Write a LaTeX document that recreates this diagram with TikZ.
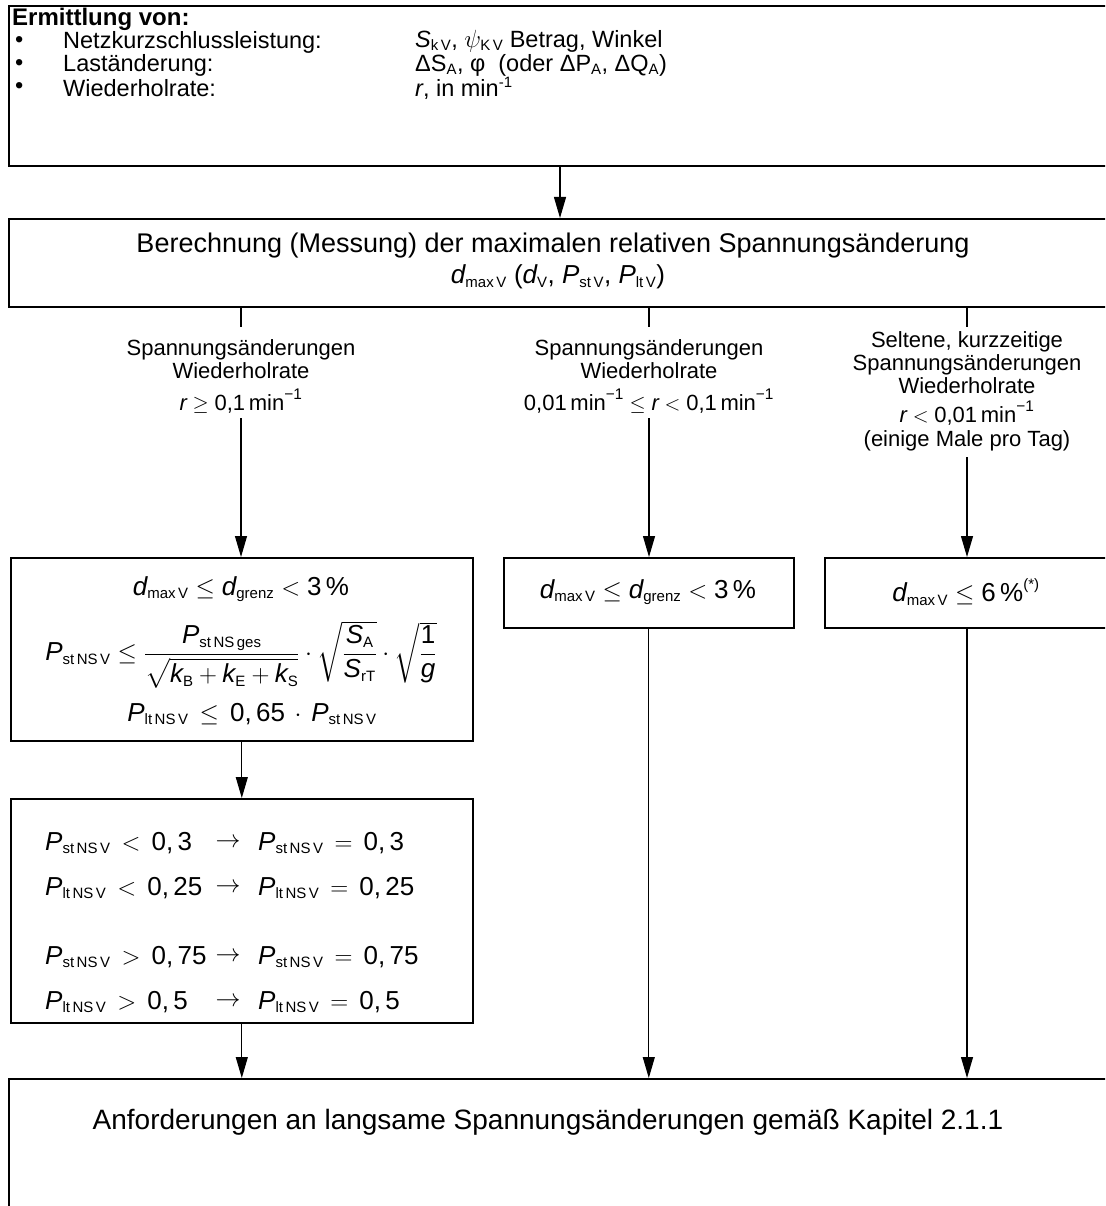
\documentclass[tikz,border=0pt]{standalone}
\usepackage{fontspec}
\usepackage{amsmath}
\setmainfont{Liberation Sans}
\usetikzlibrary{arrows.meta}
\DeclareMathSizes{26}{26}{15}{11}
\DeclareMathSizes{23.5}{23.5}{15}{11}
\DeclareMathSizes{25}{25}{15}{11}
\newcommand\vi[1]{\text{\itshape #1}}
\newcommand\tx[1]{\text{#1}}
\newcommand\rl[1]{\mathrel{\,#1\,}}
\begin{document}
\begin{tikzpicture}[x=1pt,y=-1pt,
  box/.style={draw, line width=1.6pt, inner sep=0pt, anchor=north west},
  txt/.style={inner sep=0pt, font=\fontsize{23.5}{24}\selectfont},
  big/.style={inner sep=0pt, font=\fontsize{27}{27}\selectfont},
  lbl/.style={inner sep=0pt, align=center, font=\fontsize{22}{23}\selectfont},
  fm/.style={inner sep=0pt, font=\fontsize{26}{26}\selectfont},
  arr/.style={line width=1.1pt, -{Triangle[length=21pt, width=12pt]}},
  tickline/.style={line width=1.1pt},
]
\useasboundingbox (0,0) rectangle (1105,1206);
\clip (0,0) rectangle (1105,1206);

% boxes
\node[box, minimum width=1104pt, minimum height=160pt] (top) at (8,5) {};
\node[box, minimum width=1104pt, minimum height=88pt] (mid) at (8,218) {};
\node[box, minimum width=462pt, minimum height=183pt] (b1) at (10,557) {};
\node[box, minimum width=290pt, minimum height=70pt] (b2) at (503,557) {};
\node[box, minimum width=290pt, minimum height=70pt] (b3) at (824,557) {};
\node[box, minimum width=462pt, minimum height=224pt] (b4) at (10,798) {};
\node[box, minimum width=1104pt, minimum height=200pt] (bot) at (8,1078) {};

% top box text
\node[txt, anchor=west, font=\bfseries\fontsize{24}{24}\selectfont] (head) at (12,19) {Ermittlung von:};
\node[txt, anchor=west] (d1) at (15,42) {•};
\node[txt, anchor=west] (d2) at (15,65) {•};
\node[txt, anchor=west] (d3) at (15,88) {•};
\node[txt, anchor=west] (l1) at (63,42) {Netzkurzschlussleistung:};
\node[txt, anchor=west] (l2) at (63,65) {Laständerung:};
\node[txt, anchor=west] (l3) at (63,88) {Wiederholrate:};
\node[txt, anchor=west] (v1) at (415,41) {$\vi{S}_{\tx{k\,V}}$, $\psi_{\tx{K\,V}}$ Betrag, Winkel};
\node[txt, anchor=west] (v2) at (415,65) {ΔS\textsubscript{A}, φ\ \ (oder ΔP\textsubscript{A}, ΔQ\textsubscript{A})};
\node[txt, anchor=west] (v3) at (415,88) {\textit{r}, in min\textsuperscript{-1}};

% middle box text
\node[big] (m1) at (553,246) {Berechnung (Messung) der maximalen relativen Spannungsänderung};
\node[txt, font=\fontsize{26}{26}\selectfont] (m2) at (558,277) {$\vi{d}_{\tx{max\,V}}$ ($\vi{d}_{\tx{V}}$, $\vi{P}_{\tx{st\,V}}$, $\vi{P}_{\tx{lt\,V}}$)};

% top arrow
\coordinate (ax) at (560,0);
\draw[arr] (ax |- top.south) -- (ax |- mid.north);

% column labels
\node[lbl] (c1) at (241,359) {Spannungsänderungen\\Wiederholrate};
\node[lbl] (c1r) at (241,401) {$\vi{r} \ge \tx{0,1\,min}^{\tx{−1}}$};
\node[lbl] (c2) at (649,359) {Spannungsänderungen\\Wiederholrate};
\node[lbl] (c2r) at (649,401) {$\tx{0,01\,min}^{\tx{−1}} \le \vi{r} < \tx{0,1\,min}^{\tx{−1}}$};
\node[lbl] (c3) at (967,363) {Seltene, kurzzeitige\\Spannungsänderungen\\Wiederholrate};
\node[lbl] (c3r) at (967,413) {$\vi{r} < \tx{0,01\,min}^{\tx{−1}}$};
\node[lbl] (c3n) at (967,441) {(einige Male pro Tag)};

% ticks from middle box
\draw[tickline] (c1.north |- mid.south) -- ++(0,19);
\draw[tickline] (c2.north |- mid.south) -- ++(0,19);
\draw[tickline] (c3.north |- mid.south) -- ++(0,19);

% arrows to boxes
\draw[arr] ([yshift=-5pt]c1r.south) -- (c1r.south |- b1.north);
\draw[arr] ([yshift=-5pt]c2r.south) -- (c2r.south |- b2.north);
\draw[arr] ([yshift=-6pt]c3n.south) -- (c3n.south |- b3.north);

% box 1 formulas
\node[fm] (f1) at (241,589) {$\vi{d}_{\tx{max\,V}} \le \vi{d}_{\tx{grenz}} < \tx{3\,\%}$};
\node[fm] (f2) at (241,655) {$\vi{P}_{\tx{st\,NS\,V}} \le \dfrac{\vi{P}_{\tx{st\,NS\,ges}}}{\sqrt{\vi{k}_{\tx{B}}+\vi{k}_{\tx{E}}+\vi{k}_{\tx{S}}}} \cdot \sqrt{\dfrac{\vi{S}_{\tx{A}}}{\vi{S}_{\tx{rT}}}} \cdot \sqrt{\dfrac{\tx{1}}{\vi{g}}}$};
\node[fm] (f3) at (252,714) {$\vi{P}_{\tx{lt\,NS\,V}} \rl{\le} \tx{0,\,65} \mathbin{\,\cdot\,} \vi{P}_{\tx{st\,NS\,V}}$};

% box 2 / 3 formulas
\node[fm] (f4) at (648,592) {$\vi{d}_{\tx{max\,V}} \le \vi{d}_{\tx{grenz}} < \tx{3\,\%}$};
\node[fm] (f5) at (966,592) {$\vi{d}_{\tx{max\,V}} \le \tx{6\,\%}^{\tx{(*)}}$};

% box 4 rows
\node[fm, anchor=west] (r1a) at (45,843) {$\vi{P}_{\tx{st\,NS\,V}} \rl{<} \tx{0,\,3}$};
\node[fm, anchor=west] (r2a) at (45,888) {$\vi{P}_{\tx{lt\,NS\,V}} \rl{<} \tx{0,\,25}$};
\node[fm, anchor=west] (r3a) at (45,957) {$\vi{P}_{\tx{st\,NS\,V}} \rl{>} \tx{0,\,75}$};
\node[fm, anchor=west] (r4a) at (45,1002) {$\vi{P}_{\tx{lt\,NS\,V}} \rl{>} \tx{0,\,5}$};
\node[fm] (r1b) at (228,843) {$\rightarrow$};
\node[fm] (r2b) at (228,888) {$\rightarrow$};
\node[fm] (r3b) at (228,957) {$\rightarrow$};
\node[fm] (r4b) at (228,1002) {$\rightarrow$};
\node[fm, anchor=west] (r1c) at (258,843) {$\vi{P}_{\tx{st\,NS\,V}} \rl{=} \tx{0,\,3}$};
\node[fm, anchor=west] (r2c) at (258,888) {$\vi{P}_{\tx{lt\,NS\,V}} \rl{=} \tx{0,\,25}$};
\node[fm, anchor=west] (r3c) at (258,957) {$\vi{P}_{\tx{st\,NS\,V}} \rl{=} \tx{0,\,75}$};
\node[fm, anchor=west] (r4c) at (258,1002) {$\vi{P}_{\tx{lt\,NS\,V}} \rl{=} \tx{0,\,5}$};

% arrows between boxes
\draw[arr] (b1.south) -- (b4.north);
\draw[arr] (b4.south) -- (b4.south |- bot.north);
\draw[arr] (b2.south) -- (b2.south |- bot.north);
\draw[arr] (c3n.south |- b3.south) -- (c3n.south |- bot.north);

% bottom text
\node[big, font=\fontsize{28}{28}\selectfont] (bt) at (548,1122) {Anforderungen an langsame Spannungsänderungen gemäß Kapitel 2.1.1};
\end{tikzpicture}
\end{document}
